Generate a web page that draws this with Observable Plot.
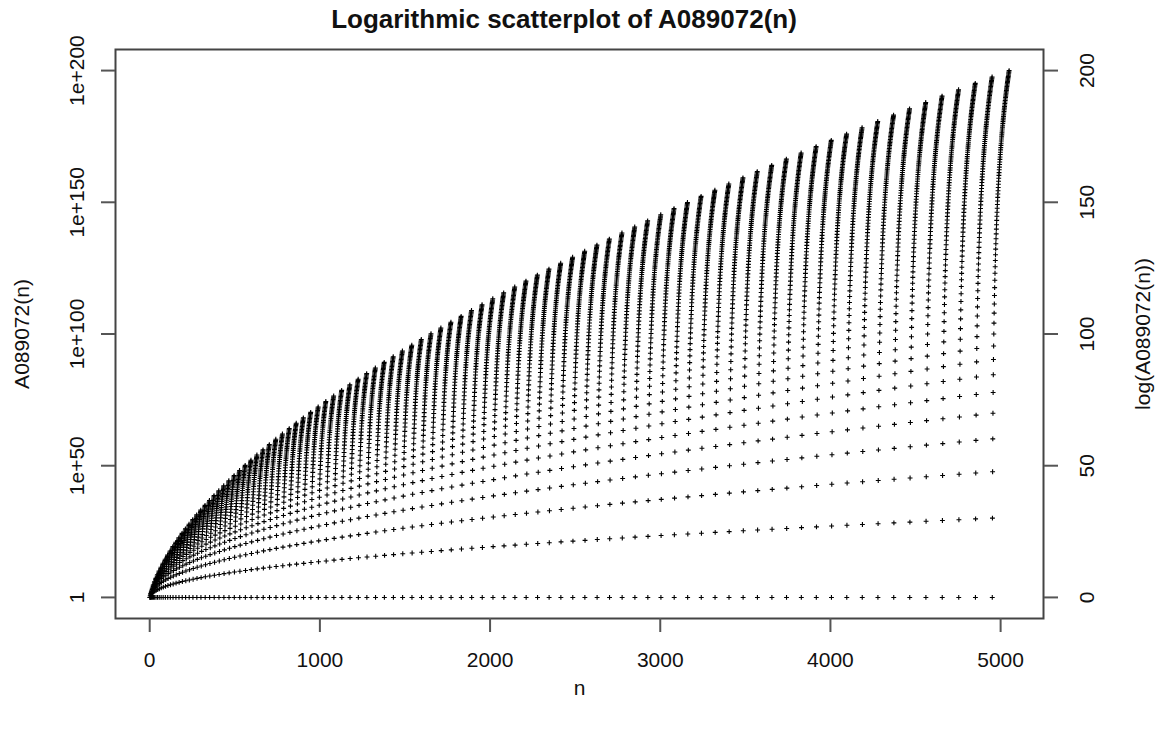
<!DOCTYPE html>
<html>
<head>
<meta charset="utf-8">
<script src="https://cdn.jsdelivr.net/npm/d3@7"></script>
<script src="https://cdn.jsdelivr.net/npm/@observablehq/plot@0.6"></script>
<style>
  body { margin: 0; background: #fff; font-family: "Liberation Sans", Arial, sans-serif; }
  #title { height: 36px; line-height: 38px; text-align: center; font-weight: bold; font-size: 26px; color: #111; width: 1160px; }
  #title span { position: relative; left: -16px; }
</style>
</head>
<body>
<div id="title"><span>Logarithmic scatterplot of A089072(n)</span></div>
<div id="chart"></div>
<script>
// A089072: triangle read by rows, T(n,k) = k^n, 1 <= k <= n (rows 1..100 -> 5050 terms)
const rowCount = 100;
const xTicks = [0, 1000, 2000, 3000, 4000, 5000];
const yTicks = [0, 50, 100, 150, 200];
const leftTickLabels = ["1", "1e+50", "1e+100", "1e+150", "1e+200"];
const rightTickLabels = ["0", "50", "100", "150", "200"];

// sequence terms (index, log10 of value) from the sequence definition
const seq = [];
let idx = 1;
for (let n = 1; n <= rowCount; n++) {
  for (let k = 1; k <= n; k++) {
    seq.push({ i: idx++, logv: n * Math.log10(k) });
  }
}

const W = 1160, H = 696;
const FS = 21;
const plot = Plot.plot({
  width: W,
  height: H,
  marginLeft: 115,
  marginRight: 117,
  marginTop: 13,
  marginBottom: 114,
  style: { fontFamily: "'Liberation Sans', Arial, sans-serif", fontSize: FS + "px", color: "#111", background: "#fff" },
  x: { domain: [-201, 5252], axis: null },
  y: { domain: [-8, 208], axis: null },
  marks: [
    Plot.dot(seq, { x: "i", y: "logv", symbol: "plus", r: 1.7, stroke: "#000", strokeWidth: 1.1 }),
    Plot.frame({ stroke: "#444", strokeWidth: 2 }),
    // x axis
    Plot.axisX({ ticks: xTicks, tickSize: 14, tickPadding: 20, tickFormat: d => String(d), fontSize: FS, stroke: "#555", strokeWidth: 2, label: null }),
    Plot.text(["n"], { frameAnchor: "bottom", dy: 76, fontSize: FS, fill: "#111" }),
    // left axis
    Plot.axisY({ anchor: "left", ticks: yTicks, tickSize: 14, tickFormat: () => "", stroke: "#555", strokeWidth: 2, label: null }),
    Plot.text(yTicks, { y: d => d, text: (d, i) => leftTickLabels[i], frameAnchor: "left", dx: -38, rotate: -90, textAnchor: "middle", fontSize: FS, fill: "#111" }),
    Plot.text(["A089072(n)"], { frameAnchor: "left", dx: -93, rotate: -90, textAnchor: "middle", fontSize: FS, fill: "#111" }),
    // right axis
    Plot.axisY({ anchor: "right", ticks: yTicks, tickSize: 14, tickFormat: () => "", stroke: "#555", strokeWidth: 2, label: null }),
    Plot.text(yTicks, { y: d => d, text: (d, i) => rightTickLabels[i], frameAnchor: "right", dx: 44, rotate: -90, textAnchor: "middle", fontSize: FS, fill: "#111" }),
    Plot.text(["log(A089072(n))"], { frameAnchor: "right", dx: 100, rotate: -90, textAnchor: "middle", fontSize: FS, fill: "#111" })
  ]
});
document.getElementById("chart").appendChild(plot);
</script>
</body>
</html>
